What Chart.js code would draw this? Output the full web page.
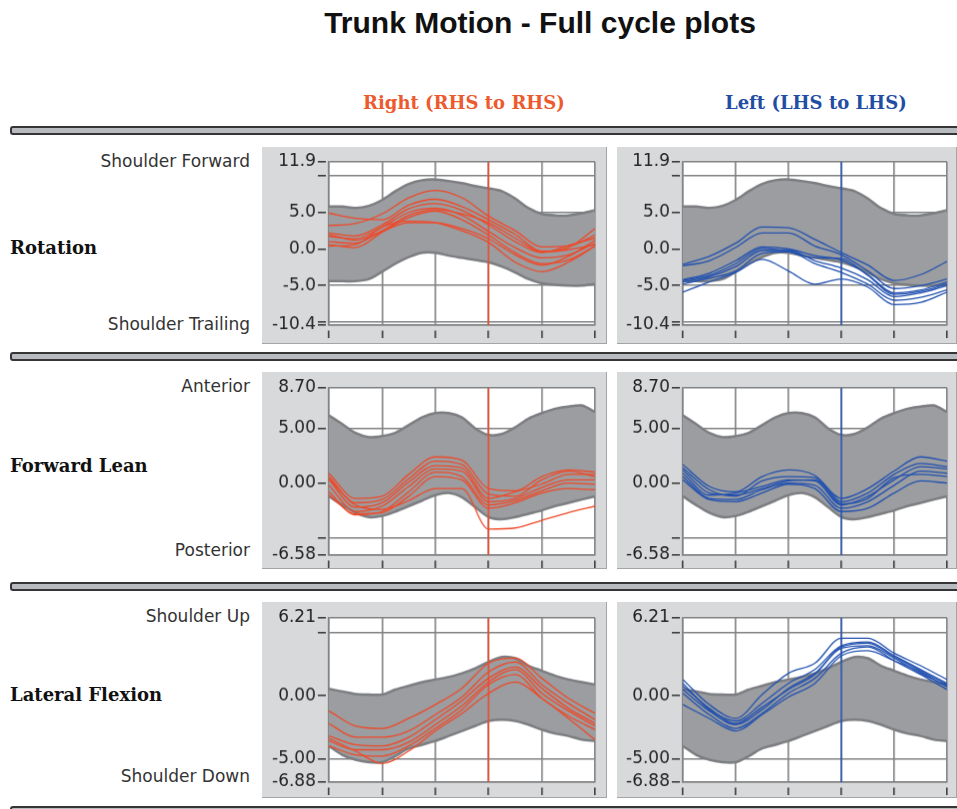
<!DOCTYPE html>
<html>
<head>
<meta charset="utf-8">
<title>Trunk Motion - Full cycle plots</title>
<script src="https://cdn.jsdelivr.net/npm/chart.js@4.4.0/dist/chart.umd.min.js"></script>
<style>
  body { margin: 0; width: 957px; height: 809px; overflow: hidden; position: relative; background: #fff; }
  .abs { position: absolute; white-space: nowrap; }
  #title { left: 240px; top: 6px; width: 600px; text-align: center; font: bold 30px "Liberation Sans", Arial, sans-serif; color: #111; }
  .side-head { font: bold 18px "DejaVu Serif", serif; line-height: 22px; }
  .row-label { left: 10px; font: bold 18px "DejaVu Serif", serif; color: #111; line-height: 22px; }
  .end-label { right: 707px; font: 17px "DejaVu Sans", sans-serif; color: #333; line-height: 20px; text-align: right; }
  .rule { left: 10px; width: 960px; height: 5px; border: 2px solid #353535; background: #b8bcc0; border-radius: 3px 0 0 3px; }
  canvas.panel { position: absolute; background: #d7d9db; border-right: 1px solid #a3a5a7; border-bottom: 1px solid #a3a5a7; }
</style>
</head>
<body>
<div id="title" class="abs">Trunk Motion - Full cycle plots</div>
<div class="abs side-head" style="left:363px; top:92px; color:#ec5a2e;">Right (RHS to RHS)</div>
<div class="abs side-head" style="left:725px; top:92px; color:#1f4ea3;">Left (LHS to LHS)</div>

<div class="abs rule" style="top:126px;"></div>
<div class="abs rule" style="top:352px;"></div>
<div class="abs rule" style="top:582px;"></div>
<div class="abs rule" style="top:806px;"></div>

<div class="abs row-label" style="top:237px;">Rotation</div>
<div class="abs row-label" style="top:455px;">Forward Lean</div>
<div class="abs row-label" style="top:684px;">Lateral Flexion</div>

<div class="abs end-label" style="top:151px;">Shoulder Forward</div>
<div class="abs end-label" style="top:314px;">Shoulder Trailing</div>
<div class="abs end-label" style="top:376px;">Anterior</div>
<div class="abs end-label" style="top:540px;">Posterior</div>
<div class="abs end-label" style="top:606px;">Shoulder Up</div>
<div class="abs end-label" style="top:766px;">Shoulder Down</div>

<canvas id="rotRight" class="panel" width="345" height="197" style="left:262px; top:147px;"></canvas>
<canvas id="rotLeft" class="panel" width="340" height="197" style="left:617px; top:147px;"></canvas>
<canvas id="leanRight" class="panel" width="345" height="197" style="left:262px; top:372px;"></canvas>
<canvas id="leanLeft" class="panel" width="340" height="197" style="left:617px; top:372px;"></canvas>
<canvas id="flexRight" class="panel" width="345" height="196" style="left:262px; top:602px;"></canvas>
<canvas id="flexLeft" class="panel" width="340" height="196" style="left:617px; top:602px;"></canvas>

<script>
// gait cycle samples (% of stride)
const cycle5 = [0, 5, 10, 15, 20, 25, 30, 35, 40, 45, 50, 55, 60, 65, 70, 75, 80, 85, 90, 95, 100];
const cycle10 = [0, 10, 20, 30, 40, 50, 60, 70, 80, 90, 100];
const toeOff = 60;

// Rotation
const rotationTicks = [11.9, 10, 5, 0, -5, -10, -10.4];
const rotationTickLabels = ['11.9', '', '5.0', '0.0', '-5.0', '', '-10.4'];
const rotationNormUpper = [5.8, 5.8, 5.6, 5.9, 6.7, 7.9, 8.9, 9.4, 9.5, 9.3, 9.0, 8.6, 8.3, 7.9, 6.9, 5.6, 4.8, 4.6, 4.6, 4.9, 5.3];
const rotationNormLower = [-4.4, -4.4, -4.4, -4.1, -3.1, -2.0, -1.1, -0.5, -0.5, -0.9, -1.2, -1.5, -1.8, -2.4, -3.2, -4.1, -4.7, -4.9, -5.0, -5.0, -4.8];
const rotationRight = [
  [3.2, 3.5, 4.8, 7.0, 8.0, 7.0, 4.5, 2.5, 0.3, 0.4, 1.9],
  [4.9, 4.2, 4.0, 6.0, 6.8, 5.8, 4.0, 2.0, -0.3, 0.2, 2.8],
  [2.2, 1.8, 3.3, 5.5, 6.2, 5.3, 3.3, 1.0, -0.5, 0.5, 1.5],
  [1.7, 1.4, 3.0, 5.0, 5.6, 4.6, 2.4, 0.2, -1.2, -0.8, 0.8],
  [2.0, 1.2, 2.5, 4.6, 5.4, 4.8, 3.6, 1.5, -0.4, -0.1, 0.6],
  [0.6, 0.2, 2.3, 4.3, 5.2, 4.0, 1.9, -0.5, -2.0, -1.5, 0.4],
  [0.4, 0.6, 3.0, 3.8, 3.6, 2.5, 0.9, -1.8, -3.1, -1.8, 0.4],
  [1.0, 0.8, 2.4, 3.6, 3.6, 2.8, 1.4, -0.8, -2.2, -1.0, 1.2]
];
const rotationLeft = [
  [-2.1, -1.0, 0.8, 3.0, 2.9, 1.3, -0.5, -2.2, -4.3, -3.5, -1.7],
  [-2.3, -1.6, 0.2, 2.2, 2.2, 0.4, -0.8, -3.0, -5.4, -5.0, -4.1],
  [-4.2, -3.3, -1.6, 0.3, 0.0, -0.9, -1.5, -3.5, -6.0, -5.6, -4.5],
  [-4.5, -3.8, -2.4, -0.2, -0.2, -1.6, -2.6, -4.2, -6.5, -6.0, -5.0],
  [-4.8, -4.0, -3.0, -0.6, -0.4, -2.0, -3.2, -4.8, -7.0, -6.6, -5.6],
  [-5.9, -4.5, -3.2, -1.4, -3.0, -4.8, -4.1, -5.2, -7.6, -7.3, -5.9],
  [-4.3, -3.6, -2.0, 0.1, -0.3, -1.2, -1.3, -3.6, -6.2, -5.8, -4.8]
];

// Forward lean
const leanTicks = [8.7, 5, 0, -5, -6.58];
const leanTickLabels = ['8.70', '5.00', '0.00', '', '-6.58'];
const leanNormUpper = [6.2, 5.4, 4.6, 4.2, 4.3, 4.6, 5.3, 6.0, 6.4, 6.4, 6.0, 5.0, 4.4, 4.5, 5.1, 5.9, 6.4, 6.8, 7.0, 7.1, 6.5];
const leanNormLower = [-1.2, -2.0, -2.7, -3.1, -3.0, -2.6, -2.1, -1.6, -1.1, -0.9, -1.3, -2.2, -3.1, -3.3, -3.1, -2.8, -2.5, -2.1, -1.8, -1.5, -1.2];
const leanRight = [
  [0.9, -1.4, -1.2, 0.8, 2.4, 2.1, -0.5, -0.7, 0.6, 1.2, 1.0],
  [0.6, -1.8, -1.5, 0.4, 2.0, 1.7, -1.0, -1.2, 0.3, 1.1, 0.6],
  [0.3, -2.2, -1.8, 0.1, 1.6, 1.4, -1.4, -0.8, -0.1, 0.8, 0.8],
  [-0.2, -2.6, -2.1, -0.3, 1.3, 1.1, -1.7, -1.4, -0.4, 0.3, 0.3],
  [-0.8, -2.9, -2.6, -0.8, 1.0, 0.6, -2.0, -1.6, -0.7, 0.0, -0.1],
  [-1.1, -2.8, -2.7, -1.2, 0.6, 0.3, -2.3, -1.8, -0.9, -0.5, -0.6],
  [0.4, -2.0, -2.4, -1.6, -0.5, -0.5, -4.2, -4.1, -3.4, -2.7, -2.1]
];
const leanLeft = [
  [1.7, -0.3, -0.8, 0.6, 1.2, 0.7, -1.4, -0.5, 1.1, 2.4, 2.0],
  [1.4, -0.6, -1.2, 0.2, 0.6, 0.5, -1.7, -0.9, 0.8, 1.8, 1.5],
  [0.9, -1.1, -0.9, -0.3, 0.3, 0.2, -2.0, -1.2, 0.3, 1.5, 1.3],
  [0.6, -1.4, -1.5, -0.6, 0.0, -0.2, -2.3, -1.7, -0.2, 1.1, 0.9],
  [0.3, -1.5, -1.7, -0.9, -0.1, -0.5, -2.6, -2.3, -0.9, 0.2, 0.0],
  [1.2, -0.9, -1.1, -0.5, 0.2, 0.3, -1.9, -1.4, 0.5, 0.8, 0.6]
];

// Lateral flexion
const flexTicks = [6.21, 5, 0, -5, -6.88];
const flexTickLabels = ['6.21', '', '0.00', '-5.00', '-6.88'];
const flexNormUpper = [0.55, 0.35, 0.15, 0.1, 0.1, 0.5, 0.8, 1.1, 1.3, 1.5, 1.8, 2.2, 2.7, 3.1, 3.0, 2.4, 2.0, 1.6, 1.3, 1.1, 0.9];
const flexNormLower = [-4.0, -4.7, -5.1, -5.3, -5.3, -4.8, -4.2, -3.9, -3.6, -3.2, -2.8, -2.4, -2.0, -1.9, -2.0, -2.3, -2.7, -3.0, -3.2, -3.5, -3.6];
const flexRight = [
  [-1.2, -2.4, -2.6, -1.8, -0.7, 0.6, 2.6, 3.0, 1.4, -0.2, -1.4],
  [-2.2, -3.3, -3.3, -2.8, -1.5, -0.1, 1.9, 2.7, 0.9, -0.6, -1.9],
  [-3.2, -3.9, -4.0, -3.3, -1.9, -0.4, 1.4, 2.3, 0.6, -1.0, -2.2],
  [-3.6, -4.3, -4.3, -3.7, -2.3, -0.8, 1.1, 2.1, 0.2, -1.2, -2.4],
  [-4.0, -4.7, -4.8, -4.0, -2.6, -1.1, 0.9, 1.7, -0.2, -1.6, -2.7],
  [-3.4, -4.4, -5.4, -4.4, -2.8, -1.4, 0.2, 1.1, -0.2, -1.8, -3.5]
];
const flexLeft = [
  [1.3, -0.7, -1.8, 0.1, 1.8, 2.6, 4.6, 4.6, 3.4, 2.4, 1.3],
  [1.0, -1.1, -2.0, -0.6, 1.0, 2.1, 4.0, 4.3, 3.2, 2.1, 1.0],
  [0.5, -1.2, -2.3, -1.1, 0.6, 1.8, 3.8, 4.0, 3.0, 1.8, 0.8],
  [0.2, -1.5, -2.6, -1.4, 0.2, 1.4, 3.4, 3.9, 2.8, 1.7, 0.5],
  [-0.7, -1.8, -2.8, -1.5, -0.1, 1.0, 3.2, 3.6, 2.8, 1.9, 0.7],
  [0.8, -1.0, -2.2, -0.9, 0.5, 1.7, 3.9, 4.2, 3.1, 2.0, 0.9]
];

const RIGHT_COLOR = '#ef4a2a';
const LEFT_COLOR = '#2251b0';
const GRID = '#808284';
const BAND_FILL = '#9b9da0';
const BAND_EDGE = '#7c7e81';

const toPoints = (xs, ys) => xs.map((x, i) => ({ x: x, y: ys[i] }));

// white plotting area on the grey panel
const plotBackground = {
  id: 'plotBackground',
  beforeDraw(chart) {
    const { ctx, chartArea: a } = chart;
    ctx.save();
    ctx.fillStyle = '#fff';
    ctx.fillRect(a.left, a.top, a.right - a.left, a.bottom - a.top);
    ctx.restore();
  }
};

function drawPanel(id, p) {
  const ticks = p.ticks;
  const min = ticks[ticks.length - 1];
  const max = ticks[0];
  const datasets = [
    { data: toPoints(cycle5, p.upper), borderColor: BAND_EDGE, borderWidth: 2.5, tension: 0.3, fill: false, order: 3 },
    { data: toPoints(cycle5, p.lower), borderColor: BAND_EDGE, borderWidth: 2.5, tension: 0.3, fill: '-1', backgroundColor: BAND_FILL, order: 3 }
  ];
  p.lines.forEach(line => {
    datasets.push({ data: toPoints(cycle10, line), borderColor: p.color, borderWidth: 1.3, cubicInterpolationMode: 'monotone', fill: false, order: 1 });
  });
  // toe-off marker
  datasets.push({ data: [{ x: toeOff, y: max }, { x: toeOff, y: min }], borderColor: p.color, borderWidth: 1.5, fill: false, order: 0 });

  new Chart(document.getElementById(id), {
    type: 'line',
    data: { datasets: datasets },
    options: {
      responsive: false,
      devicePixelRatio: 1,
      animation: false,
      elements: { point: { radius: 0 } },
      layout: { padding: { left: 0, top: p.top, right: p.right, bottom: 0 } },
      plugins: { legend: { display: false }, tooltip: { enabled: false } },
      scales: {
        x: {
          type: 'linear', min: 0, max: 100,
          ticks: { display: false, stepSize: 20 },
          grid: { color: GRID, lineWidth: 1.6, tickLength: 13, tickColor: '#333', tickWidth: 1.5, tickBorderDash: [0, 5, 8, 20] },
          border: { color: GRID, width: 1.6 },
          afterFit: s => { s.height = p.bottom; }
        },
        y: {
          type: 'linear', min: min, max: max,
          afterBuildTicks: s => { s.ticks = ticks.map(v => ({ value: v })); },
          ticks: {
            autoSkip: false, padding: 2, color: '#222',
            font: { family: 'DejaVu Sans', size: 17 },
            callback: (v, i) => p.tickLabels[i]
          },
          grid: { color: GRID, lineWidth: 1.6, tickLength: 11, tickColor: '#333', tickWidth: 1.5, tickBorderDash: [8, 20] },
          border: { color: GRID, width: 1.6 },
          afterFit: s => { s.width = p.left; }
        }
      }
    },
    plugins: [plotBackground]
  });
}

drawPanel('rotRight', { ticks: rotationTicks, tickLabels: rotationTickLabels, upper: rotationNormUpper, lower: rotationNormLower, lines: rotationRight, color: RIGHT_COLOR, left: 67, right: 11, top: 15, bottom: 18 });
drawPanel('rotLeft', { ticks: rotationTicks, tickLabels: rotationTickLabels, upper: rotationNormUpper, lower: rotationNormLower, lines: rotationLeft, color: LEFT_COLOR, left: 66, right: 9, top: 15, bottom: 18 });
drawPanel('leanRight', { ticks: leanTicks, tickLabels: leanTickLabels, upper: leanNormUpper, lower: leanNormLower, lines: leanRight, color: RIGHT_COLOR, left: 67, right: 11, top: 16, bottom: 13 });
drawPanel('leanLeft', { ticks: leanTicks, tickLabels: leanTickLabels, upper: leanNormUpper, lower: leanNormLower, lines: leanLeft, color: LEFT_COLOR, left: 66, right: 9, top: 16, bottom: 13 });
drawPanel('flexRight', { ticks: flexTicks, tickLabels: flexTickLabels, upper: flexNormUpper, lower: flexNormLower, lines: flexRight, color: RIGHT_COLOR, left: 67, right: 11, top: 16, bottom: 15 });
drawPanel('flexLeft', { ticks: flexTicks, tickLabels: flexTickLabels, upper: flexNormUpper, lower: flexNormLower, lines: flexLeft, color: LEFT_COLOR, left: 66, right: 9, top: 16, bottom: 15 });
</script>
</body>
</html>
